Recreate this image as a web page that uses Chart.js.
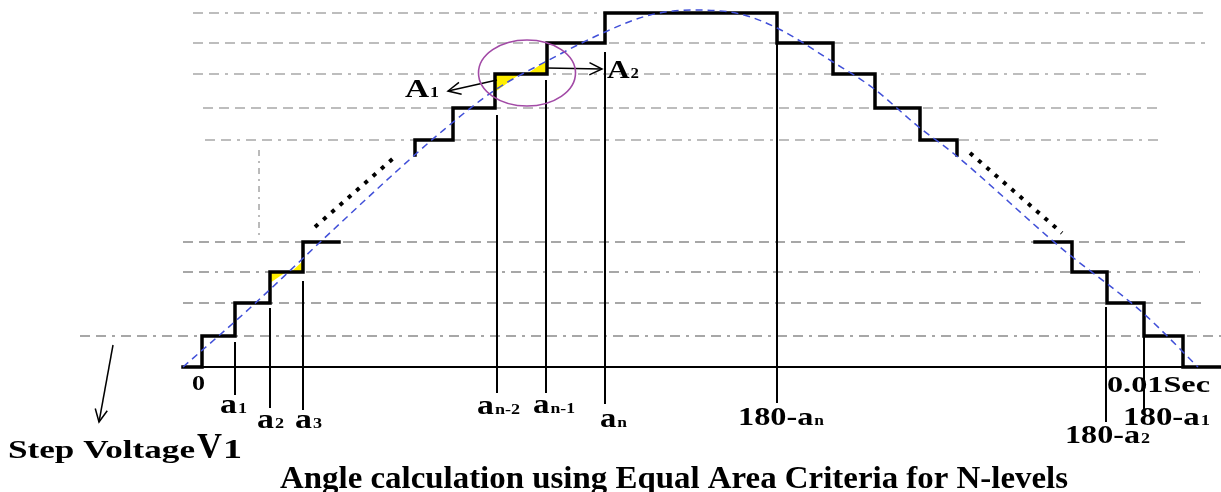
<!DOCTYPE html>
<html>
<head>
<meta charset="utf-8">
<script src="https://cdn.jsdelivr.net/npm/chart.js@4.4.1/dist/chart.umd.min.js"></script>
<style>
  html, body { margin: 0; padding: 0; background: #ffffff; }
  canvas { display: block; }
  #precarga { position: absolute; left: -999px; top: 0; font: bold 20px "Liberation Serif"; }
</style>
</head>
<body>
<canvas id="grafica" width="1221" height="492"></canvas>
<div id="precarga">Step Voltage 0.01Sec</div>
<script>
// =============================
// DATA (x = time axis units, y = voltage height above the axis)
// =============================

// staircase, left-lower part
const escalonIzqX = [183, 202, 235, 270, 303, 339];
const escalonIzqY = [0, 31, 64, 95, 125, 125];

// staircase, upper part (rising then falling)
const escalonSupX = [415, 415, 453, 495, 547, 605, 777, 833, 875, 920, 957, 957];
const escalonSupY = [212, 227, 259, 293, 324, 354, 324, 293, 259, 227, 227, 212];

// staircase, right-lower part
const escalonDerX = [1035, 1072, 1107, 1144, 1183, 1221];
const escalonDerY = [125, 95, 64, 31, 0, 0];

// sine reference (blue dashed)
const senoX = [183, 250, 333, 398, 440, 495, 547, 605, 650, 693, 740, 777, 833, 873, 920, 953, 1060, 1143, 1198];
const senoY = [0, 59, 137, 197, 234, 277, 306, 335, 352, 357, 353, 339, 305, 279, 239, 214, 120, 54, 0];

// voltage levels (grid lines)
const niveles = [354, 324, 293, 259, 227, 125, 95, 64, 31];
const nivelDesde = [193, 193, 193, 203, 205, 183, 183, 183, 80];
const nivelHasta = [1208, 1205, 1152, 1157, 1158, 1187, 1200, 1207, 1221];

// switching angles
const angulos = [235, 270, 303, 497, 546, 605, 777, 1106, 1144];
const anguloArriba = [25, 59, 86, 252, 287, 315, 324, 60, 65];
const anguloAbajo = [-28, -41, -43, -26, -26, -37, -36, -55, -43];
const anguloTexto = ["a", "a", "a", "a", "a", "a", "180-a", "180-a", "180-a"];
const anguloSub = ["1", "2", "3", "n-2", "n-1", "n", "n", "2", "1"];

// equal areas (yellow)
const areas = [
    [[270, 95], [270, 84], [286, 95]],
    [[303, 106], [303, 95], [291, 95]],
    [[495, 293], [495, 275], [520, 293]],
    [[547, 307], [547, 293], [527, 293]]
];

// missing steps (black dotted)
const puntosIzq = [[315, 140], [397, 212]];
const puntosDer = [[970, 214], [1062, 134]];

// arrows
const flechas = [
    [[497, 287], [448, 276]],
    [[547, 299], [602, 298]],
    [[113, 22], [99, -55]]
];

// =============================
// LAYOUT OF TEXTS (left, baseline, font size, width)
// =============================
const posTexto = [
    [220, -46, 28, 26],
    [257, -61, 28, 26],
    [295, -61, 28, 26],
    [477, -47, 28, 42],
    [533, -46, 28, 41],
    [600, -60, 28, 26],
    [738, -58, 26, 85],
    [1065, -76, 25, 84],
    [1123, -58, 25, 86]
];

const FUENTE = "'Liberation Serif', 'Times New Roman', serif";

function pares(xs, ys){
    return xs.map(function(x, i){ return { x: x, y: ys[i] }; });
}

function aPuntos(lista){
    return lista.map(function(p){ return { x: p[0], y: p[1] }; });
}

let datasets = [];

// grid lines
niveles.forEach(function(nivel, i){
    datasets.push({
        data: [{ x: nivelDesde[i], y: nivel }, { x: nivelHasta[i], y: nivel }],
        borderColor: i < 5 ? "#a8a8a8" : "#8a8a8a",
        borderWidth: 1.5,
        borderDash: i % 2 === 0 ? [10, 6, 10, 6, 3, 6] : [10, 6],
        order: 20
    });
});

// small dash-dot vertical
datasets.push({
    data: [{ x: 259, y: 217 }, { x: 259, y: 130 }],
    borderColor: "#777777",
    borderWidth: 1,
    borderDash: [6, 5, 2, 5],
    order: 20
});

// yellow areas
areas.forEach(function(area){
    datasets.push({
        data: aPuntos(area.concat([area[0]])),
        borderWidth: 0,
        borderColor: "rgba(0,0,0,0)",
        backgroundColor: "#ffee00",
        fill: "shape",
        order: 15
    });
});

// axis
datasets.push({
    data: [{ x: 183, y: 0 }, { x: 1221, y: 0 }],
    borderColor: "#000000",
    borderWidth: 2,
    order: 12
});

// angle markers
angulos.forEach(function(x, i){
    datasets.push({
        data: [{ x: x, y: anguloArriba[i] }, { x: x, y: anguloAbajo[i] }],
        borderColor: "#000000",
        borderWidth: 2,
        order: 12
    });
});

// staircases
[[escalonIzqX, escalonIzqY], [escalonSupX, escalonSupY], [escalonDerX, escalonDerY]].forEach(function(e){
    datasets.push({
        data: pares(e[0], e[1]),
        stepped: "before",
        borderColor: "#000000",
        borderWidth: 3.5,
        borderJoinStyle: "miter",
        borderCapStyle: "square",
        order: 6
    });
});

// dotted missing steps
[puntosIzq, puntosDer].forEach(function(p){
    datasets.push({
        data: aPuntos(p),
        borderColor: "#000000",
        borderWidth: 4,
        borderDash: [4, 7],
        order: 6
    });
});

// sine
datasets.push({
    data: pares(senoX, senoY),
    borderColor: "#4150d8",
    borderWidth: 1.5,
    borderDash: [7, 5],
    cubicInterpolationMode: "monotone",
    order: 2
});

// arrows
flechas.forEach(function(f){
    datasets.push({
        data: aPuntos(f),
        borderColor: "#000000",
        borderWidth: 1.5,
        order: 2
    });
});

function textoAjustado(ctx, texto, x, y, tam, ancho){
    ctx.font = "bold " + tam + "px " + FUENTE;
    let w = ctx.measureText(texto).width;
    ctx.save();
    ctx.translate(x, y);
    ctx.scale(ancho / w, 1);
    ctx.fillText(texto, 0, 0);
    ctx.restore();
}

function textoConSub(ctx, texto, sub, x, y, tam, ancho){
    let tamSub = Math.round(tam * 0.55);
    ctx.font = "bold " + tam + "px " + FUENTE;
    let w1 = ctx.measureText(texto).width;
    ctx.font = "bold " + tamSub + "px " + FUENTE;
    let w2 = ctx.measureText(sub).width;
    let k = ancho / (w1 + w2);
    textoAjustado(ctx, texto, x, y, tam, w1 * k);
    textoAjustado(ctx, sub, x + w1 * k + 1, y, tamSub, w2 * k);
}

const dibujos = {
    id: "dibujos",
    afterDatasetsDraw: function(chart){
        let ctx = chart.ctx;
        let sx = chart.scales.x;
        let sy = chart.scales.y;
        let px = function(v){ return sx.getPixelForValue(v); };
        let py = function(v){ return sy.getPixelForValue(v); };

        ctx.save();

        // circle around A1/A2
        ctx.strokeStyle = "#a24aa6";
        ctx.lineWidth = 1.6;
        ctx.beginPath();
        ctx.ellipse(px(527), py(294), px(575.5) - px(527), py(294) - py(327), 0, 0, Math.PI * 2);
        ctx.stroke();

        // arrow heads
        ctx.strokeStyle = "#000000";
        ctx.lineWidth = 1.5;
        flechas.forEach(function(f){
            let x0 = px(f[0][0]), y0 = py(f[0][1]);
            let x1 = px(f[1][0]), y1 = py(f[1][1]);
            let ang = Math.atan2(y1 - y0, x1 - x0);
            let largo = 14;
            ctx.beginPath();
            ctx.moveTo(x1 - largo * Math.cos(ang - 0.45), y1 - largo * Math.sin(ang - 0.45));
            ctx.lineTo(x1, y1);
            ctx.lineTo(x1 - largo * Math.cos(ang + 0.45), y1 - largo * Math.sin(ang + 0.45));
            ctx.stroke();
        });

        // texts
        ctx.fillStyle = "#000000";
        ctx.textBaseline = "alphabetic";
        angulos.forEach(function(x, i){
            let p = posTexto[i];
            textoConSub(ctx, anguloTexto[i], anguloSub[i], p[0], py(p[1]), p[2], p[3]);
        });

        textoAjustado(ctx, "0", 192, py(-23), 22, 13);
        textoAjustado(ctx, "0.01Sec", 1107, py(-25), 23, 103);
        textoConSub(ctx, "A", "1", 405, py(270), 26, 33);
        textoConSub(ctx, "A", "2", 607, py(289), 26, 31);

        textoAjustado(ctx, "Step Voltage", 8, py(-91), 26, 187);
        textoAjustado(ctx, "V", 197, py(-91), 35, 25);
        textoAjustado(ctx, "1", 223, py(-91), 27, 19);

        textoAjustado(ctx, "Angle calculation using Equal Area Criteria for N-levels", 280, py(-121), 31, 788);

        ctx.restore();
    }
};

function crearGrafica(){

    grafica = new Chart(document.getElementById("grafica").getContext("2d"), {

        type: "scatter",

        data: {
            datasets: datasets.map(function(d){
                return Object.assign({
                    showLine: true,
                    pointRadius: 0,
                    fill: false
                }, d);
            })
        },

        options: {
            responsive: false,
            animation: false,
            devicePixelRatio: 1,
            layout: { padding: 0 },
            plugins: {
                legend: { display: false },
                tooltip: { enabled: false }
            },
            scales: {
                x: { type: "linear", min: 0, max: 1221, display: false },
                y: { type: "linear", min: -125, max: 367, display: false }
            }
        },

        plugins: [dibujos]

    });

}

let grafica = null;

if(document.fonts && document.fonts.load){
    document.fonts.load("bold 28px 'Liberation Serif'").then(crearGrafica, crearGrafica);
} else {
    crearGrafica();
}
</script>
</body>
</html>
